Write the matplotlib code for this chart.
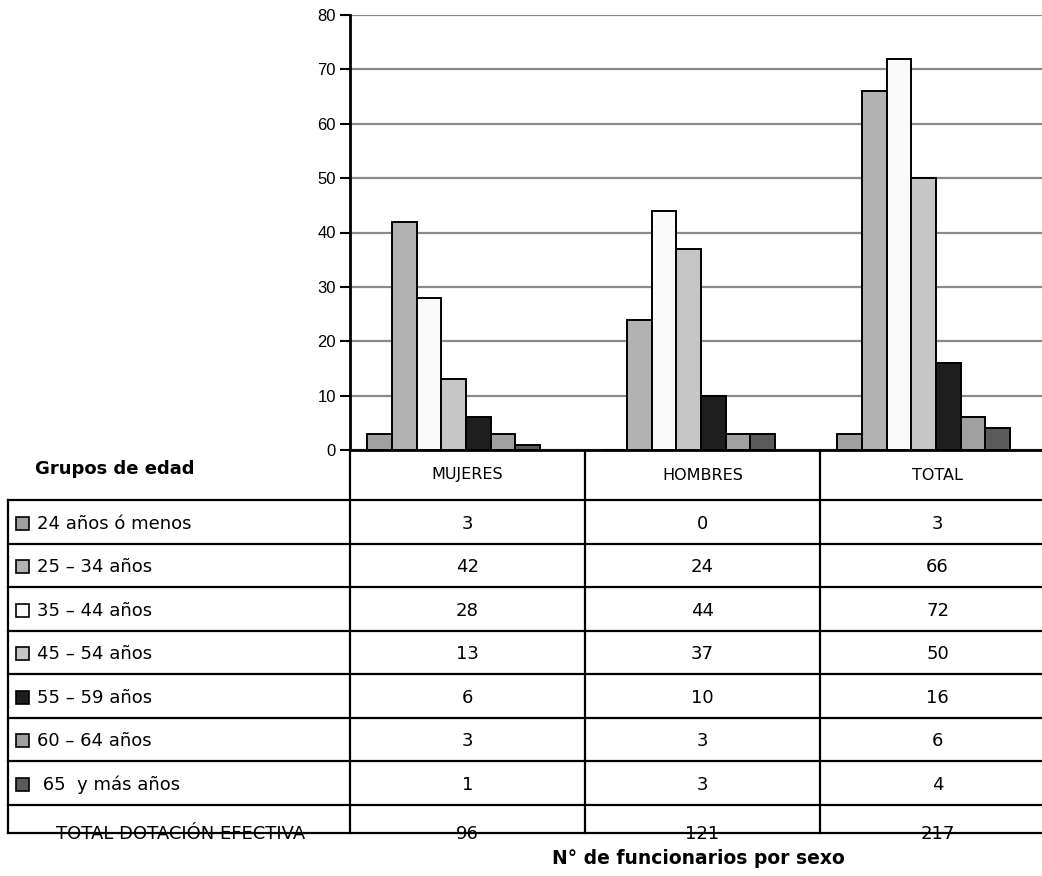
import matplotlib
matplotlib.use("Agg")
import matplotlib.pyplot as plt
from matplotlib.patches import Rectangle
import numpy as np

# datos
grupos = ["24 años ó menos", "25 – 34 años", "35 – 44 años", "45 – 54 años",
          "55 – 59 años", "60 – 64 años", " 65  y más años"]
sexos = ["MUJERES", "HOMBRES", "TOTAL"]
mujeres = [3, 42, 28, 13, 6, 3, 1]
hombres = [0, 24, 44, 37, 10, 3, 3]
total = [3, 66, 72, 50, 16, 6, 4]
colores = ["#a0a0a0", "#b2b2b2", "#fafafa", "#c6c6c6", "#1e1e1e", "#a0a0a0", "#5a5a5a"]
yticks = [0, 10, 20, 30, 40, 50, 60, 70, 80]

W, H = 1042, 876
fig = plt.figure(figsize=(W / 100, H / 100), dpi=100)

# ejes del grafico (columnas de 235 px, la ultima sale de la figura)
x0, y_top, y_base, col_w = 350, 15, 450, 235
ax = fig.add_axes([x0 / W, (H - y_base) / H, 3 * col_w / W, (y_base - y_top) / H])

series = np.array([mujeres, hombres, total])  # filas = sexo
bw = 0.105
start = 0.074
for i in range(len(grupos)):
    xs = np.arange(3) + start + bw * (i + 0.5)
    ax.bar(xs, series[:, i], width=bw, color=colores[i], edgecolor="black",
           linewidth=1.4, zorder=3)

ax.set_xlim(0, 3)
ax.set_ylim(0, 80)
ax.set_yticks(yticks)
ax.set_yticklabels([str(v) for v in yticks], fontfamily="Liberation Sans", fontsize=12)
ax.tick_params(axis="y", length=7, width=1.5, pad=3)
ax.set_xticks([])
ax.yaxis.grid(True, color="#8a8a8a", linewidth=1.6, zorder=0)
ax.set_axisbelow(True)
for s in ["top", "right"]:
    ax.spines[s].set_visible(False)
ax.spines["left"].set_linewidth(2)
ax.spines["bottom"].set_linewidth(2)

# tabla en pixeles
tb = fig.add_axes([0, 0, 1, 1], zorder=-1)
tb.set_xlim(0, W)
tb.set_ylim(H, 0)
tb.axis("off")

left, right = 8, 1055
row0, row_h = 500, 43.5
bottom = 833
cols = [x0 + col_w * k for k in range(4)]
rows = [row0 + row_h * k for k in range(len(grupos) + 2)]
lw = 1.6
fam = "DejaVu Sans"

for yy in rows[:-1]:
    tb.plot([left, right], [yy, yy], color="black", lw=lw)
tb.plot([left, right], [bottom, bottom], color="black", lw=lw)
tb.plot([left, left], [row0, bottom], color="black", lw=lw)
for xx in cols:
    tb.plot([xx, xx], [y_base, bottom], color="black", lw=lw)

tb.text(35, 469, "Grupos de edad", fontsize=13, fontweight="bold", fontfamily=fam,
        va="center", ha="left")
for k, s in enumerate(sexos):
    tb.text(cols[k] + col_w / 2, 475, s, fontsize=11.5, fontfamily=fam,
            ha="center", va="center")

for i, g in enumerate(grupos):
    yc = rows[i] + row_h / 2 + 2
    tb.add_patch(Rectangle((16, yc - 7), 13, 13, facecolor=colores[i],
                           edgecolor="black", lw=1.2))
    tb.text(37, yc, g, fontsize=13, fontfamily=fam, va="center", ha="left")
    for k in range(3):
        tb.text(cols[k] + col_w / 2, yc, str(series[k, i]), fontsize=13,
                fontfamily=fam, va="center", ha="center")

clip = Rectangle((0, 0), W, bottom, transform=tb.transData)
tot = series.sum(axis=1)
yt = 834
t = tb.text(181, yt, "TOTAL DOTACIÓN EFECTIVA", fontsize=13, fontfamily=fam,
            va="center", ha="center")
t.set_clip_path(clip)
for k in range(3):
    t = tb.text(cols[k] + col_w / 2, yt, str(tot[k]), fontsize=13, fontfamily=fam,
                va="center", ha="center")
    t.set_clip_path(clip)

tb.text(698, 858, "N° de funcionarios por sexo", fontsize=13.5, fontweight="bold",
        fontfamily=fam, va="center", ha="center")

fig.savefig("out.png", dpi=100)
